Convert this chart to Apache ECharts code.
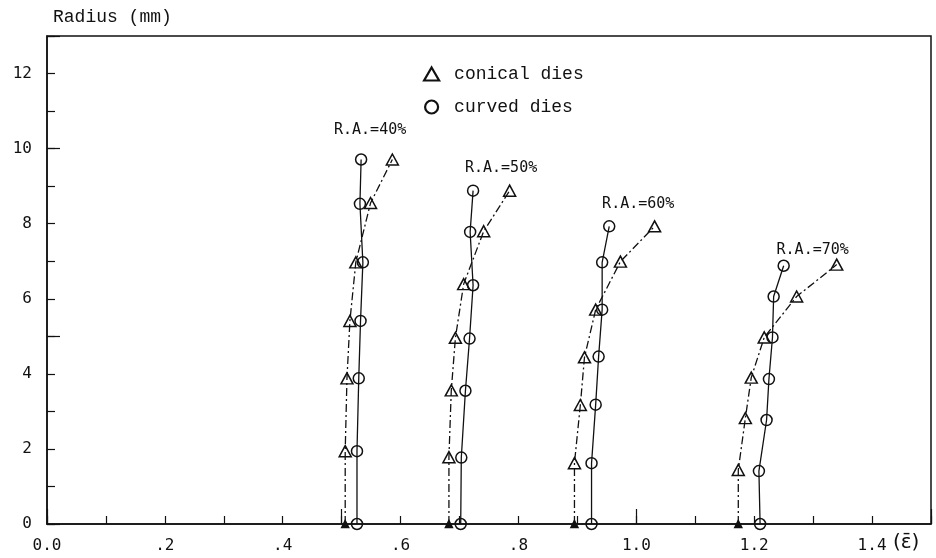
<!DOCTYPE html>
<html>
<head>
<meta charset="utf-8">
<script src="https://cdn.jsdelivr.net/npm/echarts@6/dist/echarts.min.js"></script>
<style>
html,body{margin:0;padding:0;background:#fff;}
#c{width:936px;height:558px;}
</style>
</head>
<body>
<div id="c"></div>
<script>
// ---- data (x = equivalent strain, y = radius mm) ----
const groupLabels = ['R.A.=40%', 'R.A.=50%', 'R.A.=60%', 'R.A.=70%'];

const conical40 = [[0.506,0],[0.506,1.94],[0.509,3.88],[0.514,5.41],[0.524,6.97],[0.549,8.55],[0.586,9.71]];
const curved40  = [[0.526,0],[0.526,1.94],[0.529,3.88],[0.532,5.41],[0.536,6.97],[0.531,8.53],[0.533,9.71]];

const conical50 = [[0.682,0],[0.682,1.78],[0.686,3.56],[0.693,4.96],[0.707,6.39],[0.741,7.80],[0.785,8.88]];
const curved50  = [[0.702,0],[0.703,1.77],[0.710,3.55],[0.717,4.94],[0.723,6.36],[0.718,7.78],[0.723,8.88]];

const conical60 = [[0.895,0],[0.895,1.62],[0.905,3.17],[0.912,4.44],[0.931,5.71],[0.973,6.99],[1.031,7.93]];
const curved60  = [[0.924,0],[0.924,1.62],[0.931,3.18],[0.936,4.46],[0.942,5.71],[0.942,6.97],[0.954,7.93]];

const conical70 = [[1.173,0],[1.173,1.44],[1.185,2.82],[1.195,3.90],[1.217,4.97],[1.272,6.06],[1.340,6.91]];
const curved70  = [[1.210,0],[1.208,1.41],[1.221,2.77],[1.225,3.86],[1.231,4.97],[1.233,6.06],[1.250,6.88]];

const seriesNames = ['conical dies', 'curved dies'];

// ---- styling / layout ----
const conicalSets = [conical40, conical50, conical60, conical70];
const curvedSets  = [curved40, curved50, curved60, curved70];
const labelOffsets = [[9,-29],[28,-23],[29,-22],[29,-16]];
const INK = '#111';
const plotFont = 'DejaVu Sans Mono';
const typeFont = 'Liberation Mono';

const series = [];
conicalSets.forEach(function(set, g){
  series.push({
    name: seriesNames[0], type: 'line', xAxisIndex: 0, yAxisIndex: 0,
    symbol: 'triangle', symbolSize: [12, 11],
    lineStyle: {color: INK, width: 1.3, type: [8,3,2,3]},
    itemStyle: {color: 'rgba(0,0,0,0)', borderColor: INK, borderWidth: 1.5},
    emphasis: {disabled: true},
    data: set.map(function(p, i){
      if (i === 0) return {value: p, symbolSize: [7,7], itemStyle: {color: INK, borderColor: INK}};
      return {value: p};
    }),
    z: 3
  });
});
curvedSets.forEach(function(set, g){
  series.push({
    name: seriesNames[1], type: 'line', xAxisIndex: 0, yAxisIndex: 0,
    symbol: 'circle', symbolSize: 11,
    lineStyle: {color: INK, width: 1.3, type: 'solid'},
    itemStyle: {color: 'rgba(0,0,0,0)', borderColor: INK, borderWidth: 1.5},
    emphasis: {disabled: true},
    data: set.map(function(p, i){
      if (i === set.length - 1) {
        return {value: p, label: {show: true, position: 'inside', offset: labelOffsets[g],
          formatter: groupLabels[g], color: INK, fontFamily: plotFont, fontSize: 15}};
      }
      return {value: p};
    }),
    z: 3
  });
});

const chart = echarts.init(document.getElementById('c'), null, {renderer: 'canvas'});
chart.setOption({
  animation: false,
  backgroundColor: '#fff',
  grid: {left: 47, right: 5, top: 36, bottom: 34, show: true, borderColor: INK, borderWidth: 1.5, backgroundColor: 'transparent'},
  legend: {
    orient: 'vertical', left: 418, top: 60, itemWidth: 15, itemHeight: 13, itemGap: 15,
    data: [{name: seriesNames[0], icon: 'triangle'}, {name: seriesNames[1], icon: 'circle'}],
    itemStyle: {color: 'rgba(0,0,0,0)', borderColor: INK, borderWidth: 2.2},
    textStyle: {fontFamily: typeFont, fontSize: 18, color: INK, padding: [0,0,0,10]},
    selectedMode: false
  },
  xAxis: [{
    type: 'value', min: 0, max: 1.5, interval: 0.1,
    axisLine: {show: true, onZero: false, lineStyle: {color: INK, width: 1.5}},
    axisTick: {show: true, inside: true, length: 8, lineStyle: {color: INK, width: 1.2}},
    axisLabel: {margin: 14, color: INK, fontFamily: plotFont, fontSize: 16,
      formatter: function(v){
        const k = Math.round(v * 10);
        if (k % 2 !== 0 || k > 14) return '';
        if (k === 0) return '0.0';
        if (k < 10) return '.' + k;
        return (k / 10).toFixed(1);
      }},
    splitLine: {show: false}
  }, {
    type: 'value', min: 0, max: 1.5, interval: 0.5, position: 'bottom',
    axisLine: {show: false},
    axisTick: {show: true, inside: true, length: 15, lineStyle: {color: INK, width: 1.2}},
    axisLabel: {show: false}, splitLine: {show: false}
  }],
  yAxis: [{
    type: 'value', min: 0, max: 13, interval: 1,
    axisLine: {show: true, onZero: false, lineStyle: {color: INK, width: 1.5}},
    axisTick: {show: true, inside: true, length: 8, lineStyle: {color: INK, width: 1.2}},
    axisLabel: {margin: 15, color: INK, fontFamily: plotFont, fontSize: 16,
      formatter: function(v){ const k = Math.round(v); return (k % 2 === 0 && k <= 12) ? String(k) : ''; }},
    splitLine: {show: false}
  }, {
    type: 'value', min: 0, max: 13, interval: 5, position: 'left',
    axisLine: {show: false},
    axisTick: {show: true, inside: true, length: 13, lineStyle: {color: INK, width: 1.2}},
    axisLabel: {show: false}, splitLine: {show: false}
  }],
  graphic: [
    {type: 'text', left: 53, top: 8, style: {text: 'Radius (mm)', fontFamily: typeFont, fontSize: 18, fill: INK}},
    {type: 'text', left: 893, top: 533, style: {text: '(\u03B5\u0304)', fontFamily: 'DejaVu Sans', fontSize: 20, fill: INK}}
  ],
  series: series
});
</script>
</body>
</html>
